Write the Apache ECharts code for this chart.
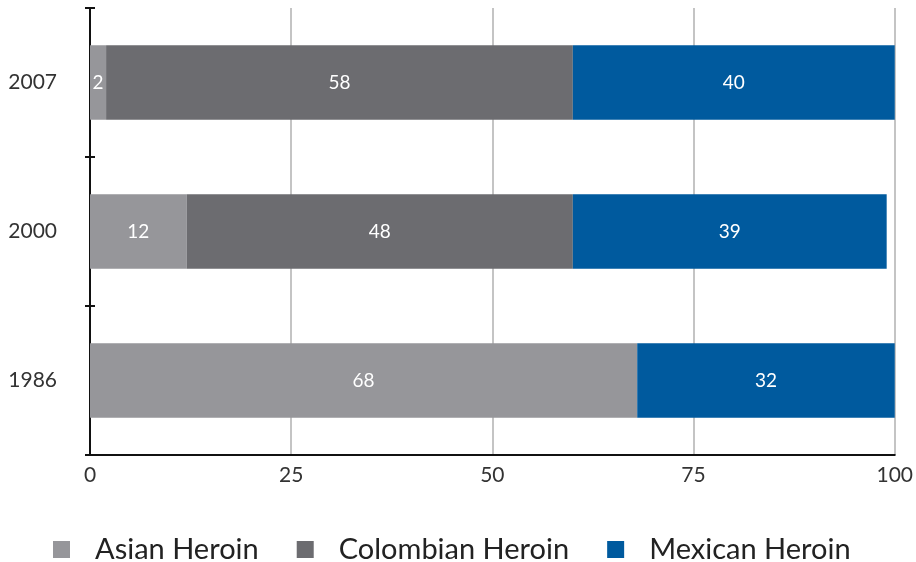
<!DOCTYPE html>
<html><head><meta charset="utf-8">
<script src="https://cdn.jsdelivr.net/npm/echarts@6/dist/echarts.min.js"></script>
<style>html,body{margin:0;padding:0;background:#fff;overflow:hidden}#c{width:916px;height:562px}</style>
</head><body><div id="c"></div>
<script>
const categories = ['1986', '2000', '2007'];
const seriesNames = ['Asian Heroin', 'Colombian Heroin', 'Mexican Heroin'];
const asian = [68, 12, 2];
const colombian = [null, 48, 58];
const mexican = [32, 39, 40];
const xTicks = [0, 25, 50, 75, 100];
const colors = ['#96969a', '#6c6c70', '#005a9e'];

const font = 'Lato, "Open Sans", sans-serif';
const chart = echarts.init(document.getElementById('c'));
const mk = (name, data, color) => ({
  name, type: 'bar', stack: 'total', data, barWidth: '50%',
  itemStyle: { color },
  label: { show: true, position: 'inside', color: '#fff', fontSize: 19, fontFamily: font,
    formatter: p => p.value == null ? '' : p.value }
});
chart.setOption({
  animation: false,
  grid: { left: 90, right: 18, top: 8, bottom: 107, containLabel: false },
  legend: {
    top: 530, left: 48, itemWidth: 17, itemHeight: 17, itemGap: 38,
    icon: 'rect',
    textStyle: { fontSize: 29, color: '#222', fontFamily: font, padding: [0, 0, 0, 20] },
    data: seriesNames
  },
  xAxis: {
    type: 'value', min: xTicks[0], max: xTicks[xTicks.length - 1], interval: 25,
    axisLine: { show: true, lineStyle: { color: '#111', width: 2 } },
    axisTick: { show: false },
    axisLabel: { fontSize: 21, color: '#333', fontFamily: font, margin: 10 },
    splitLine: { show: true, lineStyle: { color: '#c4c4c4', width: 2 } }
  },
  yAxis: [{
    type: 'category', data: categories,
    axisLine: { show: true, lineStyle: { color: '#111', width: 2 } },
    axisTick: { show: true, length: 5, lineStyle: { color: '#111', width: 2 } },
    axisLabel: { fontSize: 21, color: '#333', fontFamily: font, margin: 33 }
  }, {
    type: 'category', data: categories, position: 'left', offset: 0,
    axisLine: { show: false },
    axisTick: { show: true, inside: true, length: 5, lineStyle: { color: '#111', width: 2 } },
    axisLabel: { show: false }
  }],
  series: [
    mk(seriesNames[0], asian, colors[0]),
    mk(seriesNames[1], colombian, colors[1]),
    mk(seriesNames[2], mexican, colors[2])
  ]
});
</script></body></html>
